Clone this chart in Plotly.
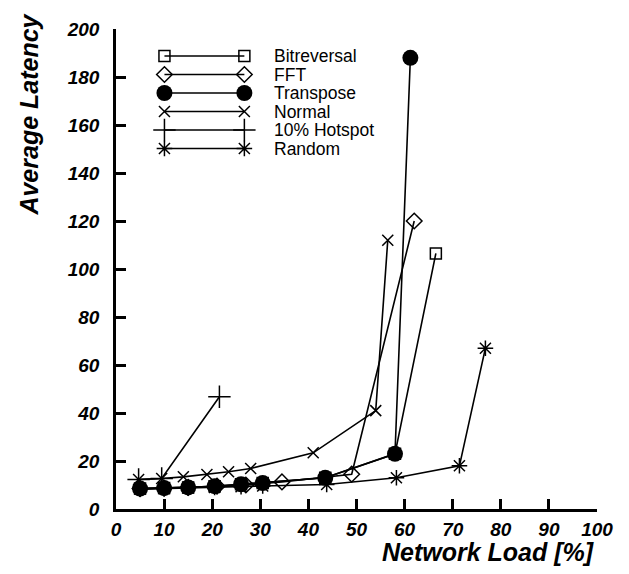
import plotly.graph_objects as go

# ---- data ----
bitrev_x = [5, 10, 15, 20.5, 26, 30.5, 43.5, 58, 66.5]
bitrev_y = [8.5, 8.7, 9, 9.5, 10.3, 10.8, 13, 23, 106.5]
fft_x = [5, 10, 15, 21, 27, 34.5, 49, 62]
fft_y = [8.5, 8.7, 9, 9.5, 10, 11.3, 14.5, 120]
transpose_x = [5, 10, 15, 20.5, 26, 30.5, 43.5, 58, 61.2]
transpose_y = [8.5, 8.7, 9, 9.5, 10.3, 10.8, 13, 23, 188]
normal_x = [4.7, 9.5, 14, 18.9, 23.4, 28, 41, 54, 56.5]
normal_y = [12.3, 12.7, 13.4, 14.4, 15.5, 16.9, 23.4, 41, 112]
hotspot_x = [4.7, 9.5, 21.5]
hotspot_y = [12.3, 12.7, 46.8]
random_x = [5, 10, 15, 20.5, 26, 30.5, 43.8, 58.3, 71.4, 76.8]
random_y = [8.3, 8.5, 8.8, 9, 9.3, 9.6, 10.2, 13, 18, 67]

series_names = ["Bitreversal", "FFT", "Transpose", "Normal", "10% Hotspot", "Random"]
x_ticks = [0, 10, 20, 30, 40, 50, 60, 70, 80, 90, 100]
y_ticks = [0, 20, 40, 60, 80, 100, 120, 140, 160, 180, 200]

# ---- styles ----
styles = [
    dict(symbol="square-open", size=11, line=dict(width=1.5, color="black"), color="black"),
    dict(symbol="diamond-open", size=12, line=dict(width=1.5, color="black"), color="black"),
    dict(symbol="circle", size=16, line=dict(width=0, color="black"), color="black"),
    dict(symbol="x-thin-open", size=11, line=dict(width=1.5, color="black"), color="black"),
    dict(symbol="cross-thin-open", size=16, line=dict(width=1.5, color="black"), color="black"),
    dict(symbol="asterisk-open", size=13, line=dict(width=1.5, color="black"), color="black"),
]
data = [(bitrev_x, bitrev_y), (fft_x, fft_y), (transpose_x, transpose_y),
        (normal_x, normal_y), (hotspot_x, hotspot_y), (random_x, random_y)]

# page body has an 8px margin; compensate so the plot lands where the reference has it
W, H = 621, 566
ml, mr, mt, mb = 107.5, 32, 21, 65
pw, ph = W - ml - mr, H - mt - mb
OFF = 8


def to_paper(px, py):
    return (px - OFF - ml) / pw, 1 - (py - OFF - mt) / ph


fig = go.Figure()
order = [0, 1, 3, 4, 5, 2]
for i in order:
    xs, ys = data[i]
    fig.add_trace(go.Scatter(x=xs, y=ys, mode="lines+markers", name=series_names[i],
                             line=dict(color="black", width=1.6), marker=styles[i],
                             showlegend=False, cliponaxis=False))

# manual legend on overlay axes (fractions of plot area)
lx0, _ = to_paper(164, 0)
lx1, _ = to_paper(244, 0)
ltext, _ = to_paper(272, 0)
_, ly0 = to_paper(0, 56)
lstep = 18.5 / ph
for k, name in enumerate(series_names):
    yy = ly0 - k * lstep
    fig.add_trace(go.Scatter(x=[lx0, lx1], y=[yy, yy], mode="lines+markers",
                             xaxis="x2", yaxis="y2", line=dict(color="black", width=1.6),
                             marker=styles[k], showlegend=False, cliponaxis=False))
    fig.add_annotation(x=ltext, y=yy, xref="x2", yref="y2", text=name, showarrow=False,
                       xanchor="left", yanchor="middle",
                       font=dict(family="Liberation Sans, Arial", size=17.5, color="black"))

tickfont = dict(family="Liberation Sans, Arial", size=19, color="black", weight="bold", style="italic")
fig.update_layout(
    width=W, height=H,
    margin=dict(l=ml, r=mr, t=mt, b=mb),
    plot_bgcolor="white", paper_bgcolor="white",
    xaxis=dict(range=[0, 100], tickvals=x_ticks, ticktext=[str(v) for v in x_ticks],
               showgrid=False, zeroline=False, showline=True, linecolor="black", linewidth=2.5,
               ticks="inside", ticklen=10, tickwidth=2.5, tickcolor="black",
               tickfont=tickfont, ticklabelstandoff=1),
    yaxis=dict(range=[0, 200], tickvals=y_ticks, ticktext=[str(v) for v in y_ticks],
               showgrid=False, zeroline=False, showline=True, linecolor="black", linewidth=2.5,
               ticks="inside", ticklen=10, tickwidth=2.5, tickcolor="black",
               tickfont=tickfont, ticklabelstandoff=10),
    xaxis2=dict(range=[0, 1], overlaying="x", visible=False),
    yaxis2=dict(range=[0, 1], overlaying="y", visible=False),
    font=dict(family="Liberation Sans, Arial", color="black"),
)

titlefont = dict(family="Liberation Sans, Arial", size=25, color="black", weight="bold", style="italic")
tx, ty = to_paper(28, 115)
fig.add_annotation(x=tx, y=ty, xref="paper", yref="paper", text="Average Latency",
                   showarrow=False, textangle=-90, xanchor="center", yanchor="middle", font=titlefont)
tx, ty = to_paper(597, 552)
fig.add_annotation(x=tx, y=ty, xref="paper", yref="paper", text="Network Load [%]",
                   showarrow=False, xanchor="right", yanchor="middle", font=titlefont)

fig.write_html("out.html")
